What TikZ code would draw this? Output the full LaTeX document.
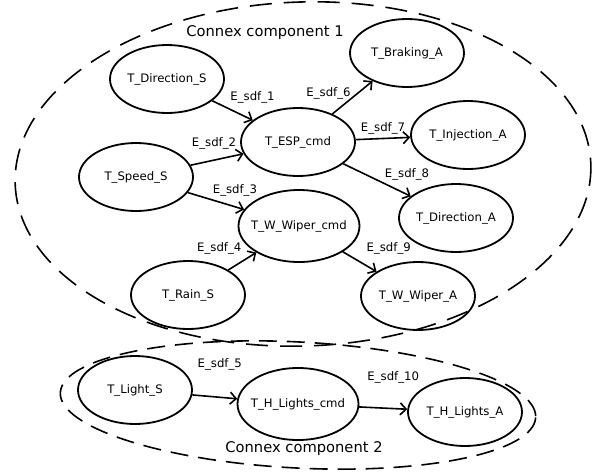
\documentclass[tikz,border=0pt]{standalone}
\usepackage{fontspec}
\setmainfont{DejaVu Sans}
\usetikzlibrary{shapes.geometric,arrows.meta}

\begin{document}
\begin{tikzpicture}[x=1pt, y=-1pt, >={Straight Barb[length=6pt,width=12pt]},
        task/.style={ellipse, draw, line width=1.8pt, minimum width=114pt, minimum height=68pt, inner xsep=-12pt, font=\fontsize{11.7}{14}\selectfont},
        bigtask/.style={task, minimum width=121pt, minimum height=72pt},
        flow/.style={->, line width=1.6pt},
        elabel/.style={font=\fontsize{11.7}{14}\selectfont},
        comp/.style={dash pattern=on 22pt off 12pt, line width=1.6pt},
        title/.style={font=\fontsize{14.7}{17}\selectfont}]
    \useasboundingbox (0,0) rectangle (598,472);
    % the two connex components
    \draw[comp] (303,174) ellipse [x radius=288, y radius=172, rotate=2];
    \draw[comp, dash pattern=on 18pt off 10pt] (298,405) ellipse [x radius=238, y radius=63, rotate=-3];
    \node[title] (comp1) at (265,33) {Connex component 1};
    \node[title] (comp2) at (304,449) {Connex component 2};
    % tasks
    \node[task] (dirs) at (167,79) {T\_Direction\_S};
    \node[task] (speed) at (136,177) {T\_Speed\_S};
    \node[task] (rain) at (188,295) {T\_Rain\_S};
    \node[task] (esp) at (298,142) {T\_ESP\_cmd};
    \node[bigtask] (wiper) at (299,226) {T\_W\_Wiper\_cmd};
    \node[task] (brake) at (407,53) {T\_Braking\_A};
    \node[task] (inj) at (468,135) {T\_Injection\_A};
    \node[task] (dira) at (456,218) {T\_Direction\_A};
    \node[task] (wipera) at (418,296) {T\_W\_Wiper\_A};
    \node[task] (light) at (135,390) {T\_Light\_S};
    \node[bigtask] (lights) at (298,404) {T\_H\_Lights\_cmd};
    \node[task] (lightsa) at (465,412) {T\_H\_Lights\_A};
    % data flows
    \draw[flow] (dirs) -- node[elabel, xshift=20pt, yshift=13pt] {E\_sdf\_1} (esp);
    \draw[flow] (speed) -- node[elabel, xshift=-3pt, yshift=16pt] {E\_sdf\_2} (esp);
    \draw[flow] (speed) -- node[elabel, xshift=19pt, yshift=11pt] {E\_sdf\_3} (wiper);
    \draw[flow] (rain) -- node[elabel, xshift=-23pt, yshift=13pt] {E\_sdf\_4} (wiper);
    \draw[flow] (light) -- node[elabel, xshift=5pt, yshift=32pt] {E\_sdf\_5} (lights);
    \draw[flow] (esp) -- node[elabel, xshift=-24pt, yshift=4pt] {E\_sdf\_6} (brake);
    \draw[flow] (esp) -- node[elabel, yshift=10pt] {E\_sdf\_7} (inj);
    \draw[flow] (esp) -- node[elabel, xshift=30pt, yshift=6pt] {E\_sdf\_8} (dira);
    \draw[flow] (wiper) -- node[elabel, xshift=29pt, yshift=13pt] {E\_sdf\_9} (wipera);
    \draw[flow] (lights) -- node[elabel, xshift=10pt, yshift=31pt] {E\_sdf\_10} (lightsa);
\end{tikzpicture}
\end{document}
